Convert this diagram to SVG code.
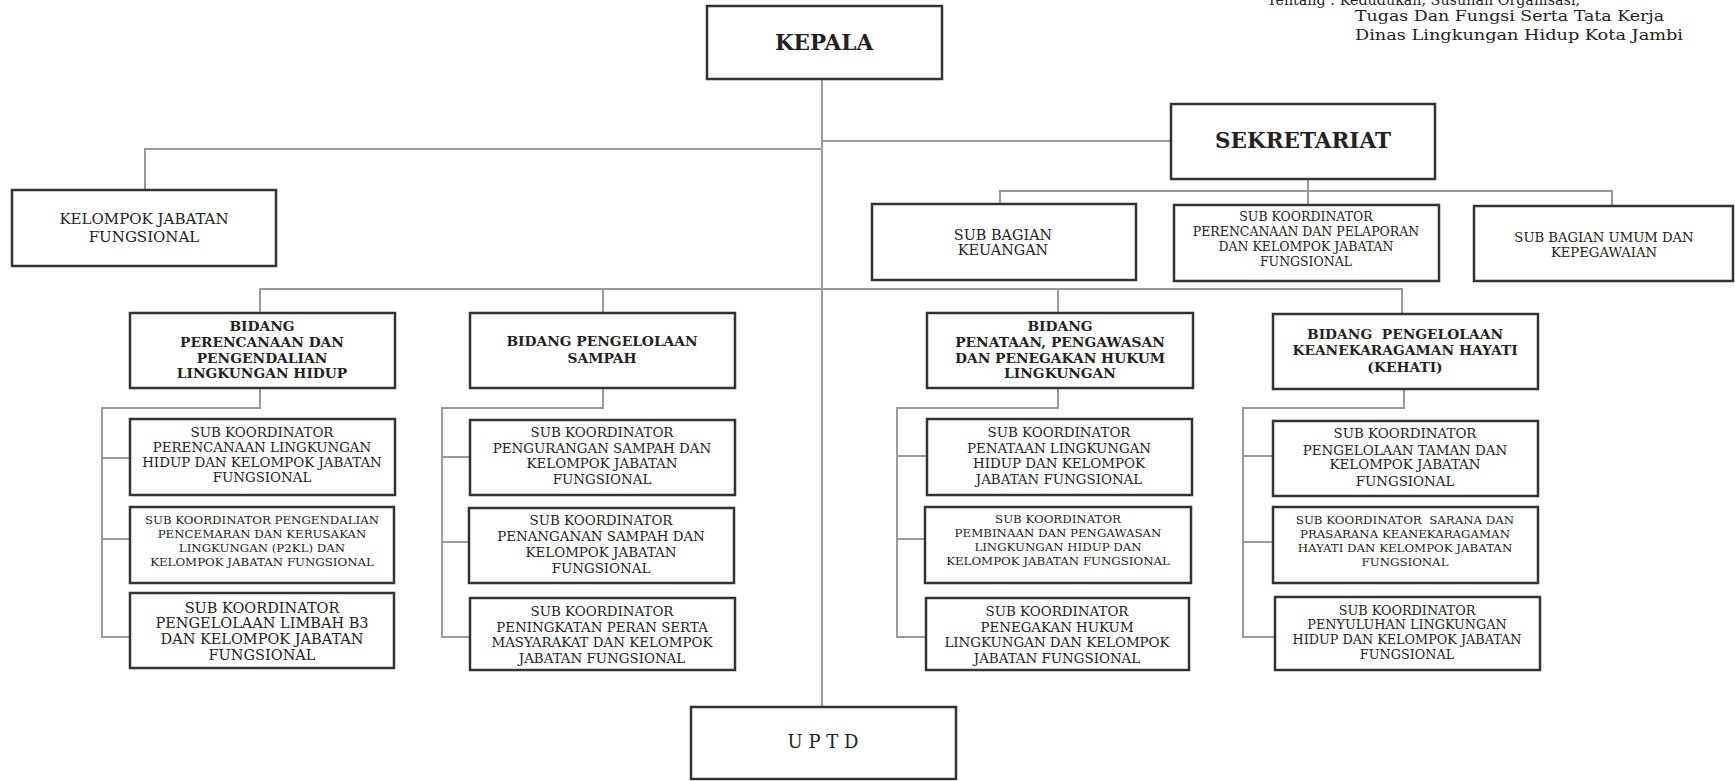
<svg xmlns="http://www.w3.org/2000/svg" width="1735" height="781" viewBox="0 0 1735 781">
<style>
.box{fill:#fff;stroke:#333;stroke-width:2.5}
.ln{fill:none;stroke:#9a9a9a;stroke-width:2}
text{font-family:"DejaVu Serif","Liberation Serif",serif;fill:#222;text-anchor:middle}
.b{font-weight:bold;font-size:13.8px}
.s{font-size:12.8px}
.xs{font-size:11.8px}
.m{font-size:13.4px}
.hd{font-size:15px;text-anchor:start}
</style>
<rect width="1735" height="781" fill="#fff"/>
<g id="header">
<text class="hd" x="1267" y="5" textLength="313" lengthAdjust="spacingAndGlyphs">Tentang : Kedudukan, Susunan Organisasi,</text>
<text class="hd" x="1355" y="21" textLength="309" lengthAdjust="spacingAndGlyphs">Tugas Dan Fungsi Serta Tata Kerja</text>
<text class="hd" x="1355" y="40" textLength="328" lengthAdjust="spacingAndGlyphs">Dinas Lingkungan Hidup Kota Jambi</text>
</g>
<g id="connectors">
<path class="ln" d="M822 79V707"/>
<path class="ln" d="M822 149H145V190"/>
<path class="ln" d="M822 141H1171"/>
<path class="ln" d="M1308 179V205M1000 204V191H1612V206"/>
<path class="ln" d="M260 313V289H1402V314"/>
<path class="ln" d="M603 289V313M1058 289V313"/>
<path class="ln" d="M260 388V408H102V637H130M102 458H130M102 539H130"/>
<path class="ln" d="M603 388V408H442V637H470M442 457H470M442 542H469"/>
<path class="ln" d="M1058 388V408H897V637H926M897 456H927M897 539H925"/>
<path class="ln" d="M1404 389V408H1243V637H1275M1243 456H1273M1243 542H1273"/>
</g>
<g id="kepala"><rect class="box" x="707" y="6" width="235" height="73"/><text x="824" y="50" style="font-size:21.5px;font-weight:bold">KEPALA</text></g>
<g id="sekretariat"><rect class="box" x="1171" y="104" width="264" height="75"/><text x="1303" y="148" style="font-size:21.5px;font-weight:bold">SEKRETARIAT</text></g>
<g id="kjf"><rect class="box" x="12" y="190" width="264" height="76"/><text x="144" y="224" style="font-size:15px">KELOMPOK JABATAN</text><text x="144" y="242" style="font-size:15px">FUNGSIONAL</text></g>
<g id="keuangan"><rect class="box" x="872" y="204" width="264" height="76"/><text x="1003" y="240" style="font-size:14.4px">SUB BAGIAN</text><text x="1003" y="255" style="font-size:14.4px">KEUANGAN</text></g>
<g id="perencanaan-pelaporan"><rect class="box" x="1174" y="205" width="265" height="76"/>
<text x="1306" y="221" style="font-size:12.5px">SUB KOORDINATOR</text><text x="1306" y="236" style="font-size:12.5px">PERENCANAAN DAN PELAPORAN</text><text x="1306" y="251" style="font-size:12.5px">DAN KELOMPOK JABATAN</text><text x="1306" y="266" style="font-size:12.5px">FUNGSIONAL</text></g>
<g id="umum"><rect class="box" x="1474" y="206" width="259" height="75"/><text x="1604" y="242" style="font-size:13.2px">SUB BAGIAN UMUM DAN</text><text x="1604" y="257" style="font-size:13.2px">KEPEGAWAIAN</text></g>

<g id="bidang-plh"><rect class="box" x="130" y="313" width="265" height="75"/>
<text class="b" x="262" y="331">BIDANG</text><text class="b" x="262" y="347">PERENCANAAN DAN</text><text class="b" x="262" y="363">PENGENDALIAN</text><text class="b" x="262" y="378">LINGKUNGAN HIDUP</text></g>
<g id="plh-1"><rect class="box" x="130" y="419" width="265" height="76"/>
<text x="262" y="437" style="font-size:13.4px">SUB KOORDINATOR</text><text x="262" y="452" style="font-size:13.4px">PERENCANAAN LINGKUNGAN</text><text x="262" y="467" style="font-size:13.4px">HIDUP DAN KELOMPOK JABATAN</text><text x="262" y="482" style="font-size:13.4px">FUNGSIONAL</text></g>
<g id="plh-2"><rect class="box" x="130" y="507" width="264" height="76"/>
<text class="xs" x="262" y="524">SUB KOORDINATOR PENGENDALIAN</text><text class="xs" x="262" y="538">PENCEMARAN DAN KERUSAKAN</text><text class="xs" x="262" y="552">LINGKUNGAN (P2KL) DAN</text><text class="xs" x="262" y="566">KELOMPOK JABATAN FUNGSIONAL</text></g>
<g id="plh-3"><rect class="box" x="130" y="593" width="264" height="75"/>
<text x="262" y="613" style="font-size:14.5px">SUB KOORDINATOR</text><text x="262" y="628" style="font-size:14.5px">PENGELOLAAN LIMBAH B3</text><text x="262" y="644" style="font-size:14.5px">DAN KELOMPOK JABATAN</text><text x="262" y="660" style="font-size:14.5px">FUNGSIONAL</text></g>

<g id="bidang-sampah"><rect class="box" x="470" y="313" width="265" height="75"/>
<text class="b" x="602" y="346">BIDANG PENGELOLAAN</text><text class="b" x="602" y="363">SAMPAH</text></g>
<g id="sampah-1"><rect class="box" x="470" y="420" width="265" height="75"/>
<text class="m" x="602" y="437">SUB KOORDINATOR</text><text class="m" x="602" y="453">PENGURANGAN SAMPAH DAN</text><text class="m" x="602" y="468">KELOMPOK JABATAN</text><text class="m" x="602" y="484">FUNGSIONAL</text></g>
<g id="sampah-2"><rect class="box" x="469" y="508" width="265" height="75"/>
<text class="m" x="601" y="525">SUB KOORDINATOR</text><text class="m" x="601" y="541">PENANGANAN SAMPAH DAN</text><text class="m" x="601" y="557">KELOMPOK JABATAN</text><text class="m" x="601" y="573">FUNGSIONAL</text></g>
<g id="sampah-3"><rect class="box" x="470" y="598" width="265" height="72"/>
<text class="m" x="602" y="616">SUB KOORDINATOR</text><text class="m" x="602" y="632">PENINGKATAN PERAN SERTA</text><text class="m" x="602" y="647">MASYARAKAT DAN KELOMPOK</text><text class="m" x="602" y="663">JABATAN FUNGSIONAL</text></g>

<g id="bidang-penataan"><rect class="box" x="927" y="313" width="266" height="75"/>
<text class="b" x="1060" y="331">BIDANG</text><text class="b" x="1060" y="347">PENATAAN, PENGAWASAN</text><text class="b" x="1060" y="363">DAN PENEGAKAN HUKUM</text><text class="b" x="1060" y="378">LINGKUNGAN</text></g>
<g id="penataan-1"><rect class="box" x="927" y="419" width="265" height="76"/>
<text class="m" x="1059" y="437">SUB KOORDINATOR</text><text class="m" x="1059" y="453">PENATAAN LINGKUNGAN</text><text class="m" x="1059" y="468">HIDUP DAN KELOMPOK</text><text class="m" x="1059" y="484">JABATAN FUNGSIONAL</text></g>
<g id="penataan-2"><rect class="box" x="925" y="507" width="266" height="76"/>
<text class="xs" x="1058" y="523">SUB KOORDINATOR</text><text class="xs" x="1058" y="537">PEMBINAAN DAN PENGAWASAN</text><text class="xs" x="1058" y="551">LINGKUNGAN HIDUP DAN</text><text class="xs" x="1058" y="565">KELOMPOK JABATAN FUNGSIONAL</text></g>
<g id="penataan-3"><rect class="box" x="926" y="598" width="263" height="72"/>
<text class="m" x="1057" y="616">SUB KOORDINATOR</text><text class="m" x="1057" y="632">PENEGAKAN HUKUM</text><text class="m" x="1057" y="647">LINGKUNGAN DAN KELOMPOK</text><text class="m" x="1057" y="663">JABATAN FUNGSIONAL</text></g>

<g id="bidang-kehati"><rect class="box" x="1273" y="314" width="265" height="75"/>
<text class="b" x="1405" y="339" xml:space="preserve">BIDANG  PENGELOLAAN</text><text class="b" x="1405" y="355">KEANEKARAGAMAN HAYATI</text><text class="b" x="1405" y="372">(KEHATI)</text></g>
<g id="kehati-1"><rect class="box" x="1273" y="421" width="265" height="75"/>
<text class="m" x="1405" y="438">SUB KOORDINATOR</text><text class="m" x="1405" y="455">PENGELOLAAN TAMAN DAN</text><text class="m" x="1405" y="469">KELOMPOK JABATAN</text><text class="m" x="1405" y="486">FUNGSIONAL</text></g>
<g id="kehati-2"><rect class="box" x="1273" y="507" width="265" height="76"/>
<text class="xs" x="1405" y="524" xml:space="preserve">SUB KOORDINATOR  SARANA DAN</text><text class="xs" x="1405" y="538">PRASARANA KEANEKARAGAMAN</text><text class="xs" x="1405" y="552">HAYATI DAN KELOMPOK JABATAN</text><text class="xs" x="1405" y="566">FUNGSIONAL</text></g>
<g id="kehati-3"><rect class="box" x="1275" y="597" width="265" height="73"/>
<text class="s" x="1407" y="615">SUB KOORDINATOR</text><text class="s" x="1407" y="629">PENYULUHAN LINGKUNGAN</text><text class="s" x="1407" y="644">HIDUP DAN KELOMPOK JABATAN</text><text class="s" x="1407" y="659">FUNGSIONAL</text></g>

<g id="uptd"><rect class="box" x="691" y="707" width="265" height="72"/><text x="823" y="748" style="font-size:18px" xml:space="preserve">U P T D</text></g>
</svg>
